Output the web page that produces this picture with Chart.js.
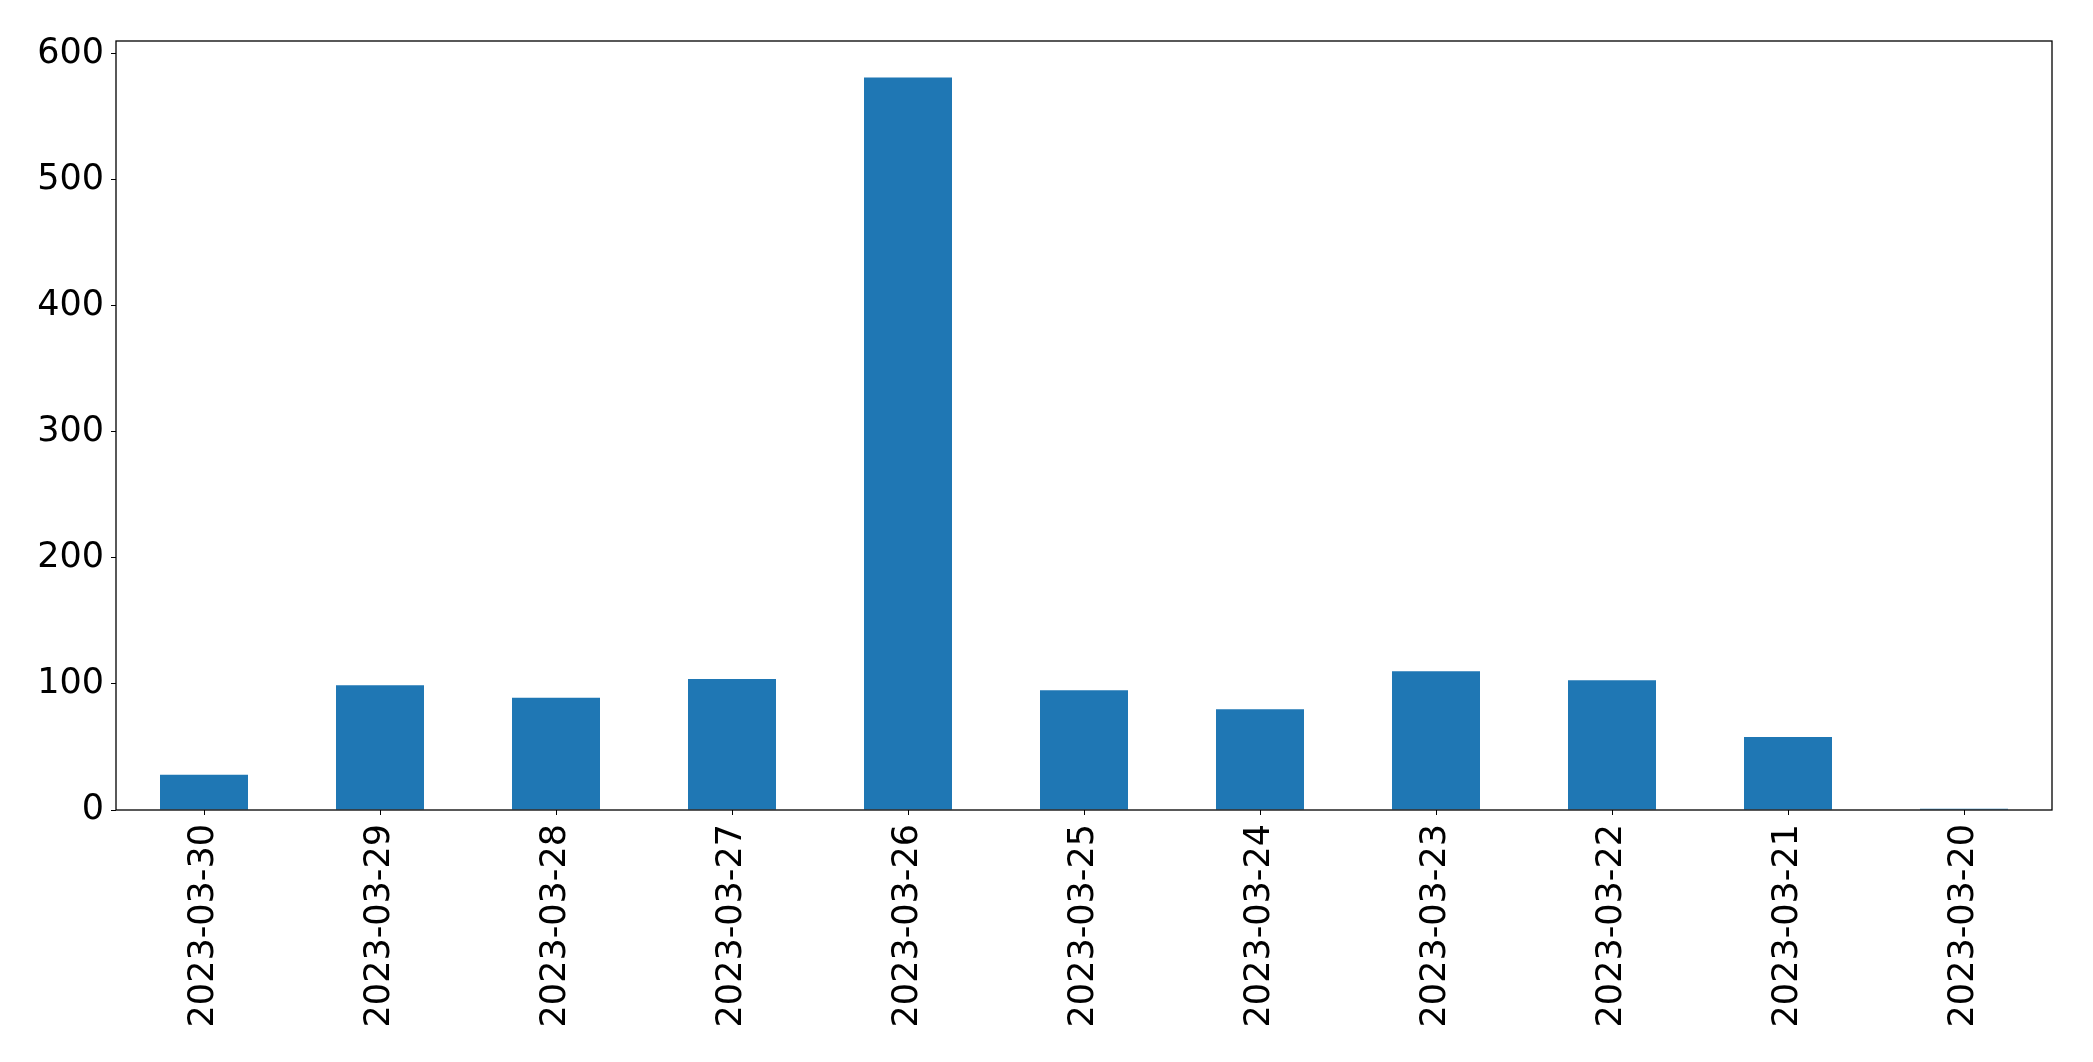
<!DOCTYPE html>
<html>
<head>
<meta charset="utf-8">
<script src="https://cdn.jsdelivr.net/npm/chart.js@4"></script>
<style>
  html, body { margin: 0; padding: 0; background: #fff; }
  #wrap { width: 2093px; height: 1062px; }
</style>
</head>
<body>
<div id="wrap"><canvas id="bars" width="2093" height="1062"></canvas></div>
<script>
// data
const dates = ['2023-03-30', '2023-03-29', '2023-03-28', '2023-03-27', '2023-03-26',
  '2023-03-25', '2023-03-24', '2023-03-23', '2023-03-22', '2023-03-21', '2023-03-20'];
const counts = [28, 99, 89, 104, 581, 95, 80, 110, 103, 58, 1];
const yTicks = [0, 100, 200, 300, 400, 500, 600];
const yMax = 610;

const tickFont = { family: 'DejaVu Sans', size: 35 };

// matplotlib style box around the axes
const frame = {
  id: 'frame',
  afterDraw(chart) {
    const a = chart.chartArea, ctx = chart.ctx;
    ctx.save();
    ctx.strokeStyle = '#000';
    ctx.lineWidth = 1.3;
    ctx.strokeRect(a.left, a.top, a.right - a.left, a.bottom - a.top);
    ctx.restore();
  }
};

const barCtx = document.getElementById('bars');
new Chart(barCtx, {
  type: 'bar',
  data: {
    labels: dates,
    datasets: [{
      data: counts,
      backgroundColor: '#1f77b4',
      borderWidth: 0,
      barPercentage: 0.5,
      categoryPercentage: 1.0,
    }],
  },
  options: {
    responsive: false,
    animation: false,
    layout: { padding: { top: 41, right: 41, left: 0, bottom: 0 } },
    plugins: { legend: { display: false }, tooltip: { enabled: false } },
    scales: {
      x: {
        offset: true,
        grid: { drawOnChartArea: false, drawTicks: true, tickLength: 5, color: '#000', offset: false },
        border: { display: false },
        ticks: { color: '#000', font: tickFont, minRotation: 90, maxRotation: 90, padding: 9, autoSkip: false },
        afterFit(s) { s.height = 252; },
      },
      y: {
        min: 0,
        max: yMax,
        grid: { drawOnChartArea: false, drawTicks: true, tickLength: 5, color: '#000' },
        border: { display: false },
        afterBuildTicks(s) { s.ticks = yTicks.map(v => ({ value: v })); },
        ticks: { color: '#000', font: tickFont, padding: 7 },
        afterFit(s) { s.width = 116; },
      },
    },
  },
  plugins: [frame],
});
</script>
</body>
</html>
